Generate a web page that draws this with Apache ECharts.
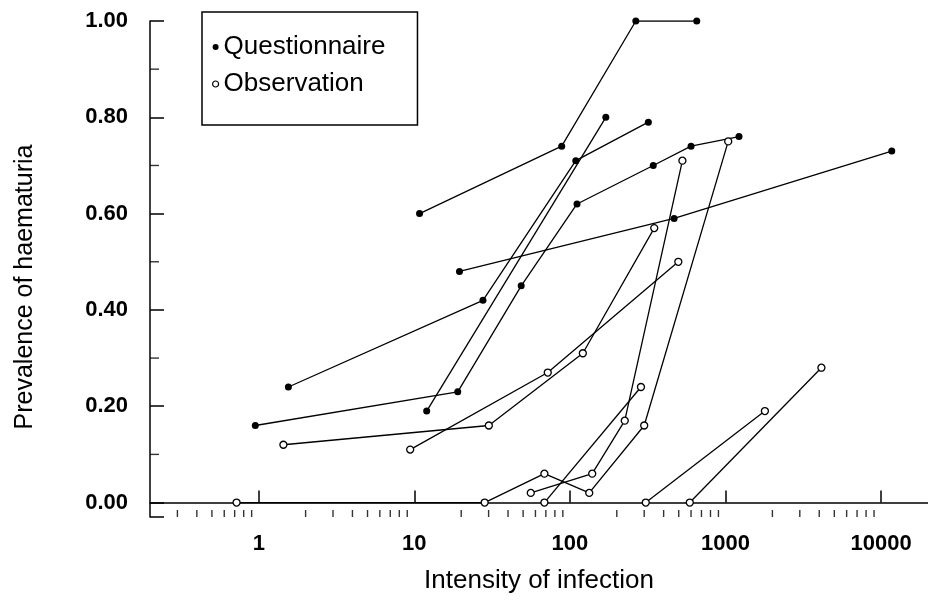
<!DOCTYPE html>
<html>
<head>
<meta charset="utf-8">
<script src="https://cdn.jsdelivr.net/npm/echarts@6/dist/echarts.min.js"></script>
<style>html,body{margin:0;padding:0;background:#fff;}#c{width:928px;height:609px;}</style>
</head>
<body>
<div id="c"></div>
<script>
// ---- data (x = intensity of infection, y = prevalence of haematuria) ----
const questionnaire1 = [[10.8, 0.60], [88.5, 0.74], [265, 1.00], [653, 1.00]];
const questionnaire2 = [[1.55, 0.24], [27.6, 0.42], [109, 0.71], [319, 0.79]];
const questionnaire3 = [[0.95, 0.16], [19, 0.23], [48.6, 0.45], [111, 0.62], [343, 0.70], [600, 0.74], [1220, 0.76]];
const questionnaire4 = [[12, 0.19], [170, 0.80]];
const questionnaire5 = [[19.5, 0.48], [467, 0.59], [11700, 0.73]];

const observation1 = [[0.72, 0.00], [28.3, 0.00], [68.5, 0.06], [133, 0.02], [300, 0.16], [1040, 0.75]];
const observation2 = [[56, 0.02], [139, 0.06], [225, 0.17], [528, 0.71]];
const observation3 = [[68.5, 0.00], [286, 0.24]];
const observation4 = [[1.44, 0.12], [30.1, 0.16], [121, 0.31], [348, 0.57]];
const observation5 = [[9.4, 0.11], [72, 0.27], [497, 0.50]];
const observation6 = [[307, 0.00], [1790, 0.19]];
const observation7 = [[589, 0.00], [4130, 0.28]];

const xTickLabels = [1, 10, 100, 1000, 10000];
const xMinorTicks = [0.3,0.4,0.5,0.6,0.7,0.8,0.9, 2,3,4,5,6,7,8,9, 20,30,40,50,60,70,80,90,
                     200,300,400,500,600,700,800,900, 2000,3000,4000,5000,6000,7000,8000,9000];
const yMinorTicks = [0.1, 0.3, 0.5, 0.7, 0.9];
const xMin = 0.2, xMax = 20000, yMin = -0.03, yMax = 1.0;

const questionnaireLines = [questionnaire1, questionnaire2, questionnaire3, questionnaire4, questionnaire5];
const observationLines = [observation1, observation2, observation3, observation4, observation5, observation6, observation7];

const FONT = "'Liberation Sans', Arial, Helvetica, sans-serif";
const lineStyle = { color: '#000', width: 1.3 };

const series = [];
questionnaireLines.forEach(d => series.push({
  name: 'Questionnaire', type: 'line', data: d, symbol: 'circle', symbolSize: 7,
  lineStyle: lineStyle, itemStyle: { color: '#000' }, silent: true, z: 3
}));
observationLines.forEach(d => series.push({
  name: 'Observation', type: 'line', data: d, symbol: 'circle', symbolSize: 7,
  lineStyle: lineStyle, itemStyle: { color: '#fff', borderColor: '#000', borderWidth: 1.3 }, silent: true, z: 3
}));
// minor ticks on x (log) axis
series.push({
  type: 'scatter', data: xMinorTicks.map(v => [v, yMin]), symbol: 'rect', symbolSize: [1.4, 7],
  symbolOffset: [0, -3.5], itemStyle: { color: '#000' }, silent: true, clip: false, z: 4
});
// minor ticks on y axis
series.push({
  type: 'scatter', data: yMinorTicks.map(v => [xMin, v]), symbol: 'rect', symbolSize: [9, 1.4],
  symbolOffset: [4.5, 0], itemStyle: { color: '#000' }, silent: true, clip: false, z: 4
});

function isLabelTick(v) {
  return xTickLabels.some(t => Math.abs(Math.log10(v) - Math.log10(t)) < 1e-6);
}

const chart = echarts.init(document.getElementById('c'), null, { renderer: 'canvas' });
chart.setOption({
  animation: false,
  backgroundColor: '#fff',
  grid: { left: 150, top: 21, width: 780, height: 496, containLabel: false },
  legend: {
    data: [
      { name: 'Questionnaire', icon: 'circle', itemStyle: { color: '#000', borderWidth: 0 } },
      { name: 'Observation', icon: 'circle', itemStyle: { color: '#fff', borderColor: '#000', borderWidth: 1.2 } }
    ],
    orient: 'vertical', left: 202, top: 12,
    padding: [22, 32, 28, 10], itemGap: 11, itemWidth: 6, itemHeight: 6,
    borderColor: '#000', borderWidth: 1.5, backgroundColor: '#fff',
    textStyle: { fontFamily: FONT, fontSize: 26, lineHeight: 26, color: '#000' },
    selectedMode: false
  },
  xAxis: {
    type: 'log', logBase: 10, min: xMin, max: xMax,
    axisLine: { show: true, lineStyle: { color: '#000', width: 1.5 } },
    axisTick: { show: true, inside: true, length: 12, lineStyle: { color: '#000', width: 1.5 } },
    axisLabel: {
      show: true, margin: 16, color: '#000', fontFamily: FONT, fontSize: 22, fontWeight: 'bold',
      showMinLabel: false, showMaxLabel: false,
      formatter: v => isLabelTick(v) ? String(Math.round(v)) : ''
    },
    splitLine: { show: false },
    name: 'Intensity of infection', nameLocation: 'middle', nameGap: 51,
    nameTextStyle: { fontFamily: FONT, fontSize: 26, color: '#000' }
  },
  yAxis: {
    type: 'value', min: yMin, max: yMax, splitNumber: 5,
    axisLine: { show: true, lineStyle: { color: '#000', width: 1.5 } },
    axisTick: { show: true, inside: true, length: 14, lineStyle: { color: '#000', width: 1.5 } },
    axisLabel: {
      margin: 22, color: '#000', fontFamily: FONT, fontSize: 22, fontWeight: 'bold',
      formatter: v => v >= -1e-9 ? v.toFixed(2) : ''
    },
    splitLine: { show: false }
  },
  graphic: [{
    type: 'text', x: 25, y: 287, rotation: Math.PI / 2,
    style: { text: 'Prevalence of haematuria', fontFamily: FONT, fontSize: 25, fill: '#000',
             align: 'center', verticalAlign: 'middle' }
  }],
  series: series
});
</script>
</body>
</html>
